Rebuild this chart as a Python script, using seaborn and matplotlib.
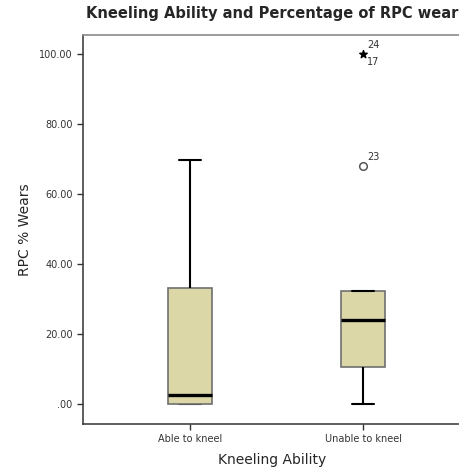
import pandas as pd
import numpy as np
import seaborn as sns
import matplotlib.pyplot as plt
from matplotlib.ticker import FuncFormatter

sns.set_style("white")
plt.rcParams["font.family"] = ["DejaVu Sans"]

# data (box values, outliers drawn apart)
categories = ["Able to kneel", "Unable to kneel"]
able = [0, 0, 0, 1.2, 2.7, 10, 33.2, 50, 69.7]
unable = [0, 5, 8, 10.6, 15, 20, 24, 27, 30, 32.3, 68, 100, 100]
out_cat = ["Unable to kneel", "Unable to kneel"]
out_val = [68, 100]
out_kind = ["mild", "extreme"]
out_labels = ["23", "24\n\n17"]

df = pd.DataFrame({
    "Kneeling Ability": [categories[0]] * len(able) + [categories[1]] * len(unable),
    "RPC % Wears": able + unable,
})

fig = plt.figure(figsize=(4.59, 4.72), dpi=100)
ax = fig.add_axes([0.181, 0.102, 0.825, 0.824])

sns.boxplot(data=df, x="Kneeling Ability", y="RPC % Wears", order=categories,
            width=0.256, showfliers=False, ax=ax,
            boxprops=dict(facecolor="#dcd7a6", edgecolor="#707070", linewidth=1.2),
            medianprops=dict(color="black", linewidth=2.4),
            whiskerprops=dict(color="black", linewidth=1.5),
            capprops=dict(color="black", linewidth=1.5), capwidths=0.128)

# caps of zero length whiskers sit behind the box (as in SPSS)
for ln in ax.lines:
    y = ln.get_ydata()
    if len(y) == 2 and y[0] == y[1] == 0 and abs(np.mean(ln.get_xdata())) < 0.3:
        ln.set_zorder(0.5)

# outliers: circle for mild, star for extreme
for c, v, k, lab in zip(out_cat, out_val, out_kind, out_labels):
    xi = categories.index(c)
    if k == "mild":
        ax.scatter(xi, v, s=30, marker="o", facecolor="white", edgecolor="#555555", linewidth=1.1, zorder=5)
        ax.text(xi + 0.025, v + 1.2, lab, fontsize=7, color="#333333", va="bottom")
    else:
        ax.scatter(xi, v, s=32, marker="*", color="black", zorder=5)
        ax.text(xi + 0.025, v, lab, fontsize=7, color="#333333", va="center", linespacing=0.8)

ax.set_xlim(-0.616, 1.57)
ax.set_ylim(-5.6, 105.4)
ax.set_yticks([0, 20, 40, 60, 80, 100])
ax.yaxis.set_major_formatter(FuncFormatter(lambda v, p: ("%.2f" % v).lstrip("0") if v == 0 else "%.2f" % v))
ax.tick_params(axis="both", labelsize=7, direction="out", length=4, width=1, colors="#333333", left=True, bottom=True)

for s in ["left", "bottom"]:
    ax.spines[s].set_color("#333333")
    ax.spines[s].set_linewidth(1.1)
ax.spines["top"].set_color("#8a8a8a")
ax.spines["top"].set_linewidth(1.2)
ax.spines["right"].set_visible(False)

ax.set_xlabel("Kneeling Ability", fontsize=10, labelpad=6)
ax.set_ylabel("RPC % Wears", fontsize=10, labelpad=5)
ax.set_title("Kneeling Ability and Percentage of RPC wear", fontsize=10.5, fontweight="bold", pad=12)

fig.savefig("out.png", dpi=100)
